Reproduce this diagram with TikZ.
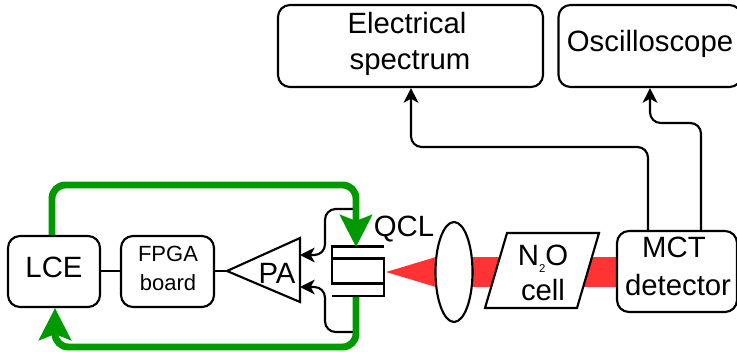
\documentclass[tikz,border=0pt]{standalone}
\usepackage{fontspec}
\setmainfont{Liberation Sans}
\usetikzlibrary{arrows.meta,shapes.geometric}
\definecolor{lgreen}{RGB}{0,153,0}
\definecolor{lred}{RGB}{255,51,51}
\tikzset{
  x=0.75pt,y=-0.75pt,
  rbox/.style={draw,line width=1.6pt,rounded corners=9pt,inner sep=0pt},
  big/.style={font=\fontsize{22}{25}\selectfont,inner sep=0pt,anchor=base},
  small/.style={font=\fontsize{16.5}{20}\selectfont,inner sep=0pt,anchor=base},
  sig/.style={line width=1.6pt,rounded corners=8pt,-{Stealth[length=11pt,width=11pt,inset=3pt]}},
  wire/.style={line width=1.6pt},
  feed/.style={line width=5.2pt,lgreen,rounded corners=10pt,-{Stealth[length=24pt,width=24pt,inset=4.5pt]}},
  beam/.style={fill=lred,draw=none},
}
\newcommand{\boxat}[5]{\node[rbox,minimum width=#3*0.75pt,minimum height=#4*0.75pt] (#5) at (#1,#2) {};}
\begin{document}
\begin{tikzpicture}
\useasboundingbox (0,0) rectangle (737,352);
% beam
\fill[beam] (386,272) -- (436,257) -- (436,287) -- cycle;
\fill[beam] (450,257) rectangle (625,287);
% boxes
\boxat{410.5}{46}{265}{82}{elec}
\boxat{650}{46}{183}{82}{osc}
\boxat{54}{271.5}{92}{71}{lce}
\boxat{167.5}{271.5}{93}{71}{fpga}
\node[rbox,fill=white,minimum width=120*0.75pt,minimum height=81*0.75pt] (mct) at (677,271.5) {};
% lens
\node[draw,line width=1.6pt,fill=white,ellipse,minimum width=37*0.75pt,minimum height=100*0.75pt,inner sep=0pt] (lens) at (454,272) {};
% cell
\draw[line width=1.6pt,fill=white] (507,233) -- (599,233) -- (577,308) -- (485,308) -- cycle;
% PA
\draw[line width=1.6pt] (300,238) -- (300,302) -- (227,271) -- cycle;
\coordinate (paapex) at (227,271);
\coordinate (patop) at (300,255);
\coordinate (pabot) at (300,287);
% QCL
\draw[line width=1.6pt] (384,246.5) -- (332,246.5) -- (332,283.5) -- (384,283.5) (332,258.5) -- (384,258.5) -- (384,296) -- (332,296);
\coordinate (qt) at (356,247);
\coordinate (qb) at (356,296.8);
\coordinate (qa) at (353,209);
\coordinate (qc) at (353,332);
% connectors
\draw[wire] (lce.east |- 0,271) -- (fpga.west |- 0,271);
\draw[wire] (fpga.east |- 0,271) -- (paapex);
\draw[sig] (qa) -- (325,209) -- (325,255) -- (patop);
\draw[sig] (qc) -- (325,332) -- (325,287) -- (pabot);
\draw[feed] (lce.north -| 52,0) -- (52,185) -- (356,185) -- (qt);
\draw[feed] (qb) -- (356,347) -- (55,347) -- (lce.south -| 55,0);
\draw[sig] (mct.north -| 648,0) -- (648,147) -- (411,147) -- (elec.south -| 411,0);
\draw[sig] (mct.north -| 701,0) -- (701,123) -- (650,123) -- (osc.south -| 650,0);
% texts
\node[big] (t1) at (407,33.5) {Electrical};
\node[big] (t2) at (410,70) {spectrum};
\node[big] (t3) at (650,52) {Oscilloscope};
\node[big] (t4) at (54,277) {LCE};
\node[small] (t5) at (168,262) {FPGA};
\node[small] (t6) at (168,290) {board};
\node[big] (t7) at (277,283) {PA};
\node[big] (t8) at (404,237) {QCL};
\node[big] (t9) at (543,265) {N\raisebox{-5.5pt}{\fontsize{8.5}{10}\selectfont 2}O};
\node[big] (t12) at (543,300.5) {cell};
\node[big] (t13) at (674,257.5) {MCT};
\node[big] (t14) at (678,295) {detector};
\end{tikzpicture}
\end{document}
